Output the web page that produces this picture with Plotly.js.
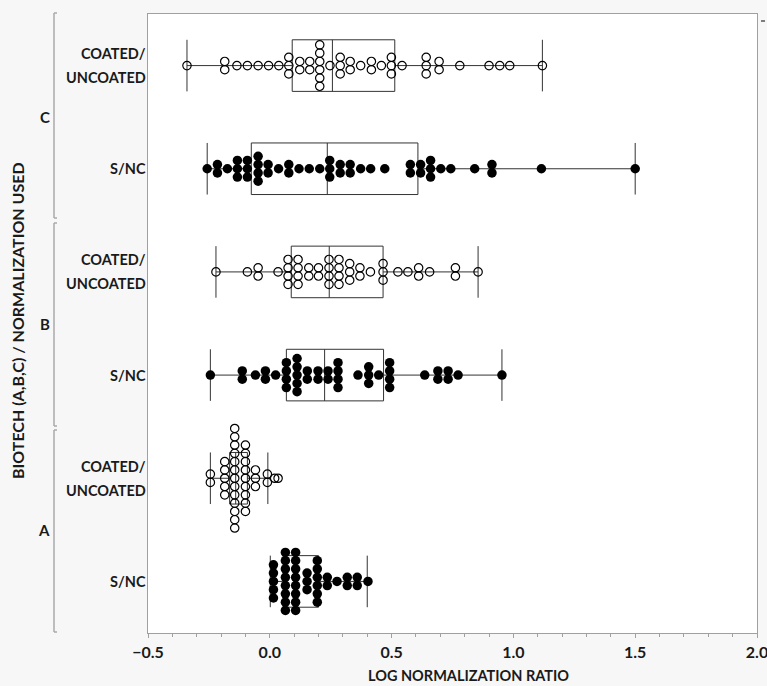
<!DOCTYPE html>
<html>
<head>
<meta charset="utf-8">
<script src="https://cdn.plot.ly/plotly-3.0.1.min.js"></script>
<style>html,body{margin:0;padding:0;background:#f7f7f7;}#chart{width:767px;height:686px;}</style>
</head>
<body>
<div id="chart"></div>
<script>
// ---- data (LOG NORMALIZATION RATIO) ----
const rowLabels = ["S/NC", "COATED/<br>UNCOATED", "S/NC", "COATED/<br>UNCOATED", "S/NC", "COATED/<br>UNCOATED"];
const groupLabels = ["A", "B", "C"];
const xTickVals = [-0.5, 0.0, 0.5, 1.0, 1.5, 2.0];

const cCoated = [-0.34, -0.185, -0.185, -0.135, -0.092, -0.048, -0.005, 0.037,
  0.078, 0.078, 0.078, 0.123, 0.123, 0.164, 0.164,
  0.205, 0.205, 0.205, 0.205, 0.205, 0.205, 0.247, 0.289, 0.289, 0.289,
  0.33, 0.33, 0.373, 0.417, 0.417, 0.458, 0.499, 0.499, 0.499, 0.543,
  0.642, 0.642, 0.642, 0.695, 0.695, 0.78, 0.90, 0.944, 0.985, 1.119];
const cSnc = [-0.257, -0.215, -0.215, -0.174, -0.133, -0.133, -0.133, -0.092, -0.092, -0.092,
  -0.048, -0.048, -0.048, -0.048, -0.007, -0.007, 0.036, 0.078, 0.078, 0.12, 0.162, 0.205,
  0.246, 0.246, 0.246, 0.289, 0.289, 0.33, 0.33, 0.373, 0.414, 0.472,
  0.577, 0.577, 0.619, 0.619, 0.66, 0.66, 0.66, 0.702, 0.743, 0.841, 0.912, 0.912, 1.115, 1.50];
const bCoated = [-0.221, -0.092, -0.048, -0.048, 0.034, 0.075, 0.075, 0.075, 0.075,
  0.116, 0.116, 0.116, 0.116, 0.16, 0.16, 0.2, 0.2, 0.243, 0.243, 0.243, 0.243,
  0.284, 0.284, 0.284, 0.284, 0.328, 0.328, 0.328, 0.37, 0.37, 0.413, 0.465, 0.465, 0.465,
  0.526, 0.567, 0.611, 0.611, 0.656, 0.762, 0.762, 0.855];
const bSnc = [-0.244, -0.113, -0.113, -0.059, -0.018, -0.018, 0.024, 0.068, 0.068, 0.068, 0.068,
  0.112, 0.112, 0.112, 0.112, 0.112, 0.154, 0.154, 0.198, 0.198, 0.239, 0.239,
  0.28, 0.28, 0.28, 0.28, 0.362, 0.406, 0.406, 0.406, 0.447, 0.492, 0.492, 0.492, 0.492,
  0.636, 0.69, 0.69, 0.732, 0.732, 0.773, 0.953];
const aCoated = [-0.244, -0.244, -0.185, -0.185, -0.185, -0.185, -0.185,
  -0.144, -0.144, -0.144, -0.144, -0.144, -0.144, -0.144, -0.144, -0.144, -0.144, -0.144, -0.144, -0.144,
  -0.1, -0.1, -0.1, -0.1, -0.1, -0.1, -0.1, -0.1, -0.1,
  -0.059, -0.059, -0.059, -0.01, -0.01, 0.02, 0.034];
const aSnc = [0.015, 0.015, 0.015, 0.015, 0.015,
  0.064, 0.064, 0.064, 0.064, 0.064, 0.064, 0.064, 0.064,
  0.106, 0.106, 0.106, 0.106, 0.106, 0.106, 0.106, 0.106,
  0.153, 0.153, 0.153, 0.195, 0.195, 0.195, 0.195, 0.195, 0.195,
  0.236, 0.236, 0.276, 0.318, 0.318, 0.359, 0.359, 0.403];

// box summary statistics, rows bottom (A S/NC) to top (C COATED)
const boxLower  = [0.002, -0.244, -0.244, -0.221, -0.257, -0.34];
const boxQ1     = [0.055, -0.165,  0.068,  0.088, -0.076,  0.092];
const boxMedian = [0.100, -0.140,  0.225,  0.244,  0.236,  0.257];
const boxQ3     = [0.200, -0.092,  0.467,  0.465,  0.608,  0.513];
const boxUpper  = [0.400, -0.008,  0.953,  0.855,  1.500,  1.119];

const seriesValues = [aSnc, aCoated, bSnc, bCoated, cSnc, cCoated];
const seriesFilled = [true, false, true, false, true, false];

// ---- build ----
const STEP = 0.0804; // vertical stacking step (category units)
function swarmY(vals, pos) {
  const counts = {}, seen = {};
  vals.forEach(v => counts[v] = (counts[v] || 0) + 1);
  return vals.map(v => {
    const n = counts[v];
    const i = seen[v] = (seen[v] || 0) + 1;
    return pos + ((i - 1) - (n - 1) / 2) * STEP;
  });
}

const traces = [];
seriesValues.forEach((vals, k) => {
  traces.push({
    type: 'box', orientation: 'h', y: [k],
    lowerfence: [boxLower[k]], q1: [boxQ1[k]], median: [boxMedian[k]],
    q3: [boxQ3[k]], upperfence: [boxUpper[k]],
    width: 0.5, whiskerwidth: 1, boxpoints: false,
    fillcolor: 'rgba(0,0,0,0)', line: {color: '#333333', width: 1},
    hoverinfo: 'skip', showlegend: false
  });
});
seriesValues.forEach((vals, k) => {
  traces.push({
    type: 'scatter', mode: 'markers', x: vals, y: swarmY(vals, k),
    marker: seriesFilled[k]
      ? {symbol: 'circle', size: 9.5, color: '#000000', line: {width: 0}}
      : {symbol: 'circle-open', size: 8.4, color: '#000000', line: {width: 1.2, color: '#000000'}},
    showlegend: false, hoverinfo: 'x'
  });
});

// layout geometry helpers (pixel -> paper)
const L = 148, R = 757, T = 14, B = 633;
const px = x => (x - L) / (R - L);
const py = y => (B - y) / (B - T);
const FONT = 'Lato, "Open Sans", sans-serif';

const annotations = [];
rowLabels.forEach((lab, k) => {
  const lines = lab.split('<br>');
  const offs = lines.length === 2 ? [0.117, -0.117] : [0];
  lines.forEach((ln, j) => annotations.push({
    text: ln, xref: 'paper', x: px(147.5), xanchor: 'right', yref: 'y', y: k + offs[j], yanchor: 'middle',
    showarrow: false, font: {family: FONT, size: 14.5, color: '#1a1a1a', weight: 'bold'}
  }));
});
groupLabels.forEach((g, i) => annotations.push({
  text: g, xref: 'paper', x: px(52), xanchor: 'right', yref: 'y', y: 2 * i + 0.5, yanchor: 'middle',
  showarrow: false, font: {family: FONT, size: 15, color: '#1a1a1a', weight: 'bold'}
}));
annotations.push({
  text: 'BIOTECH (A,B,C) / NORMALIZATION USED', textangle: -90,
  xref: 'paper', x: px(18), xanchor: 'center', yref: 'paper', y: py(321), yanchor: 'middle',
  showarrow: false, font: {family: FONT, size: 16, color: '#1a1a1a', weight: 'bold'}
});
annotations.push({
  text: 'LOG NORMALIZATION RATIO',
  xref: 'paper', x: px(366), xanchor: 'left', yref: 'paper', y: py(675), yanchor: 'middle',
  showarrow: false, font: {family: FONT, size: 14.5, color: '#1a1a1a', weight: 'bold'}
});

const shapes = [];
[[13, 218], [223, 426], [430, 632]].forEach(([y0, y1]) => {
  const ln = {color: '#aaaaaa', width: 1.5};
  shapes.push({type: 'line', xref: 'paper', yref: 'paper', x0: px(54), x1: px(54), y0: py(y0), y1: py(y1), line: ln});
  shapes.push({type: 'line', xref: 'paper', yref: 'paper', x0: px(54), x1: px(57), y0: py(y0), y1: py(y0), line: ln});
  shapes.push({type: 'line', xref: 'paper', yref: 'paper', x0: px(54), x1: px(57), y0: py(y1), y1: py(y1), line: ln});
});
shapes.push({type: 'line', xref: 'paper', yref: 'paper', x0: px(761), x1: px(765), y0: py(21), y1: py(21), line: {color: '#555', width: 1.5}});

const layout = {
  width: 767, height: 686,
  margin: {l: L, r: 767 - R, t: T, b: 686 - B, pad: 0},
  paper_bgcolor: '#f7f7f7', plot_bgcolor: '#ffffff',
  showlegend: false,
  xaxis: {
    range: [-0.5, 2.0], tickvals: xTickVals, tickformat: '.1f',
    ticks: 'outside', ticklen: 4, tickcolor: '#a0a0a0', ticklabeloverflow: 'allow',
    minor: {dtick: 0.1, ticks: 'outside', ticklen: 3, tickcolor: '#a0a0a0', showgrid: false},
    showgrid: false, zeroline: false, showline: true, mirror: true, linecolor: '#a0a0a0', linewidth: 1.3,
    tickfont: {family: FONT, size: 16, color: '#1a1a1a', weight: 'bold'}
  },
  yaxis: {
    range: [-0.5, 5.5], showticklabels: false, ticks: '', showgrid: false, zeroline: false,
    showline: true, mirror: true, linecolor: '#a0a0a0', linewidth: 1.3, fixedrange: true
  },
  annotations: annotations, shapes: shapes
};

Plotly.newPlot('chart', traces, layout, {displayModeBar: false, staticPlot: true});
</script>
</body>
</html>
